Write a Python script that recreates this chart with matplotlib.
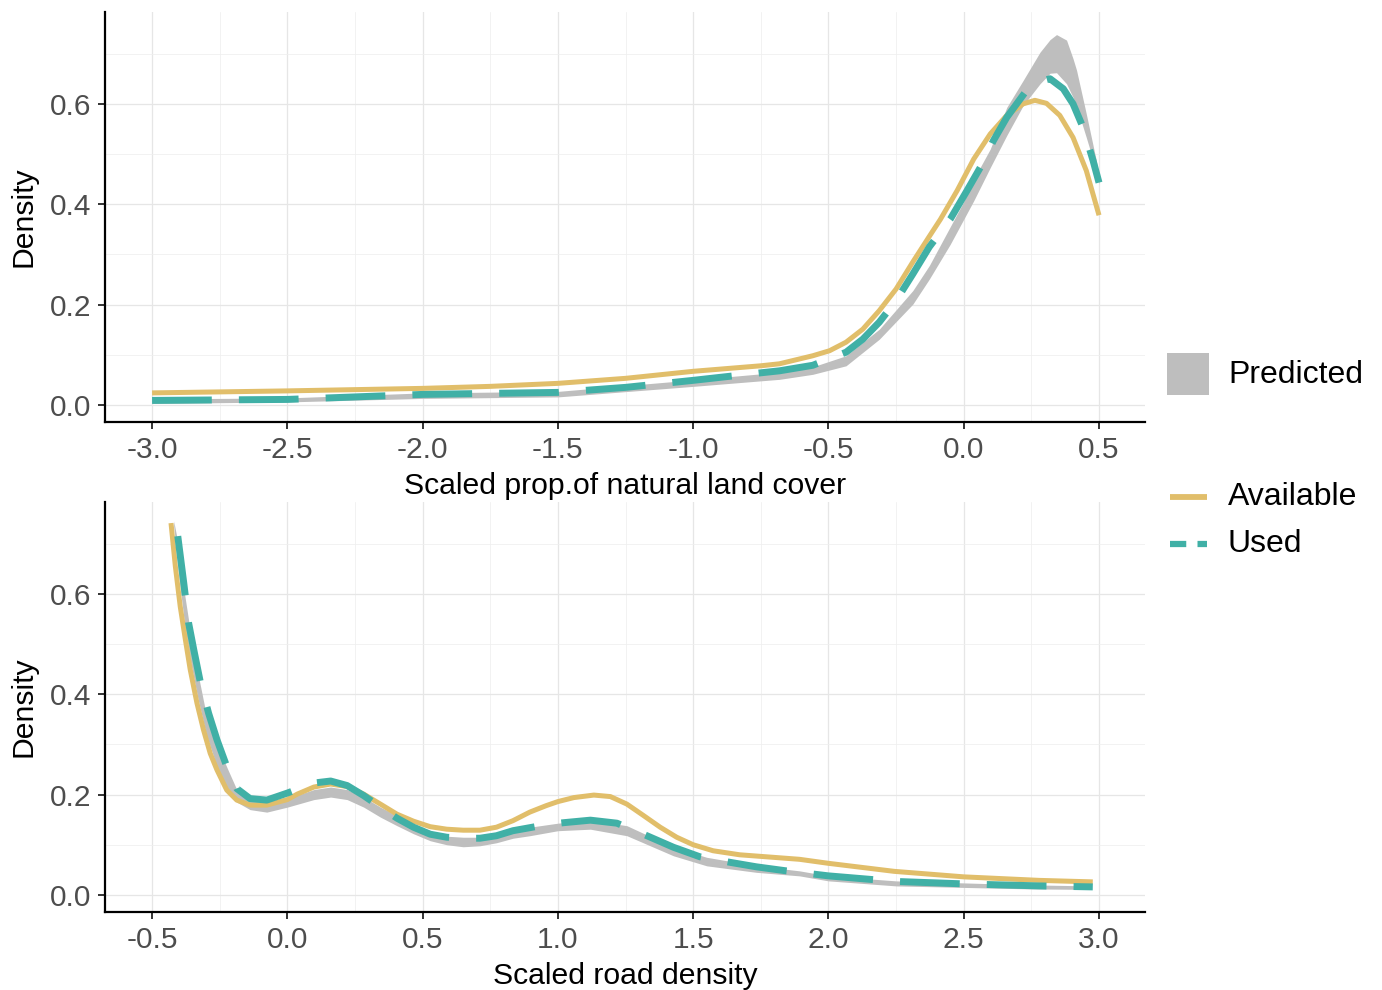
import matplotlib
matplotlib.use("Agg")
import matplotlib.pyplot as plt
from matplotlib.patches import Rectangle
from matplotlib.lines import Line2D

plt.rcParams['font.family'] = ['Liberation Sans', 'DejaVu Sans']

# ---------------- data: top panel (natural land cover) ----------------
top_avail_x = [-3.0, -2.5, -2.0, -1.75, -1.5, -1.25, -1.0, -0.75, -0.681, -0.558, -0.496,
               -0.435, -0.373, -0.312, -0.25, -0.188, -0.127, -0.086, -0.0245, 0.037, 0.098,
               0.159, 0.22, 0.263, 0.306, 0.355, 0.404, 0.453, 0.5]
top_avail_y = [0.024, 0.028, 0.033, 0.037, 0.043, 0.053, 0.067, 0.078, 0.082, 0.098, 0.108,
               0.125, 0.151, 0.188, 0.231, 0.285, 0.336, 0.370, 0.427, 0.490, 0.540,
               0.577, 0.600, 0.607, 0.601, 0.577, 0.533, 0.467, 0.378]

top_used_x = [-3.0, -2.5, -2.0, -1.75, -1.5, -1.25, -1.0, -0.75, -0.681, -0.558, -0.435,
              -0.373, -0.312, -0.25, -0.188, -0.127, -0.05, 0.012, 0.061, 0.11, 0.159,
              0.227, 0.27, 0.319, 0.368, 0.404, 0.441, 0.478, 0.5]
top_used_y = [0.009, 0.011, 0.021, 0.023, 0.025, 0.035, 0.049, 0.064, 0.068, 0.079, 0.105,
              0.131, 0.165, 0.208, 0.261, 0.315, 0.370, 0.427, 0.473, 0.527, 0.573,
              0.623, 0.643, 0.650, 0.630, 0.600, 0.553, 0.487, 0.443]

top_pred_x = [-3.0, -2.5, -2.0, -1.5, -1.0, -0.75, -0.681, -0.558, -0.435, -0.312, -0.188,
              -0.127, -0.05, 0.0, 0.037, 0.098, 0.159, 0.22, 0.282, 0.319, 0.343, 0.38,
              0.404, 0.417, 0.453, 0.49, 0.5]
top_pred_lo = [0.003, 0.006, 0.013, 0.016, 0.037, 0.048, 0.051, 0.061, 0.078, 0.131, 0.201,
               0.251, 0.320, 0.370, 0.407, 0.473, 0.537, 0.597, 0.640, 0.661, 0.662, 0.640,
               0.613, 0.595, 0.533, 0.467, 0.440]
top_pred_hi = [0.012, 0.014, 0.024, 0.027, 0.050, 0.062, 0.068, 0.076, 0.098, 0.151, 0.228,
               0.278, 0.355, 0.405, 0.450, 0.510, 0.593, 0.647, 0.703, 0.728, 0.738, 0.727,
               0.690, 0.667, 0.580, 0.487, 0.455]

# ---------------- data: bottom panel (road density) ----------------
bot_avail_x = [-0.43, -0.414, -0.396, -0.377, -0.359, -0.334, -0.31, -0.285, -0.26, -0.224,
               -0.187, -0.138, -0.076, 0.0, 0.037, 0.098, 0.16, 0.221, 0.282, 0.344, 0.405,
               0.466, 0.528, 0.589, 0.65, 0.712, 0.773, 0.834, 0.896, 0.957, 1.0, 1.059,
               1.133, 1.194, 1.255, 1.317, 1.378, 1.439, 1.5, 1.574, 1.672, 1.795, 1.893,
               2.0, 2.243, 2.501, 2.78, 2.977]
bot_avail_y = [0.741, 0.655, 0.575, 0.509, 0.449, 0.382, 0.329, 0.282, 0.249, 0.209,
               0.189, 0.179, 0.179, 0.190, 0.201, 0.215, 0.221, 0.216, 0.201, 0.181, 0.161,
               0.147, 0.136, 0.131, 0.129, 0.129, 0.135, 0.148, 0.165, 0.178, 0.186, 0.194,
               0.199, 0.196, 0.181, 0.158, 0.135, 0.115, 0.100, 0.088, 0.080, 0.075, 0.071,
               0.063, 0.047, 0.036, 0.029, 0.026]

bot_used_x = [-0.405, -0.383, -0.365, -0.346, -0.322, -0.291, -0.26, -0.224, -0.187, -0.138,
              -0.076, 0.0, 0.098, 0.16, 0.221, 0.282, 0.344, 0.405, 0.466, 0.528, 0.589,
              0.65, 0.712, 0.773, 0.834, 0.896, 0.957, 1.022, 1.12, 1.218, 1.329, 1.427,
              1.525, 1.636, 1.734, 1.844, 2.0, 2.243, 2.5, 2.78, 2.977]
bot_used_y = [0.715, 0.622, 0.542, 0.489, 0.425, 0.362, 0.309, 0.256, 0.212, 0.192,
              0.189, 0.203, 0.223, 0.227, 0.218, 0.198, 0.175, 0.153, 0.135, 0.121, 0.115,
              0.113, 0.113, 0.118, 0.128, 0.134, 0.140, 0.144, 0.149, 0.143, 0.118, 0.095,
              0.076, 0.065, 0.056, 0.048, 0.038, 0.027, 0.022, 0.018, 0.016]

bot_pred_x = [-0.42, -0.40, -0.38, -0.36, -0.33, -0.30, -0.26, -0.22, -0.187, -0.138, -0.076,
              0.0, 0.098, 0.16, 0.221, 0.282, 0.344, 0.405, 0.466, 0.528, 0.589, 0.65, 0.712,
              0.773, 0.834, 0.896, 1.0, 1.12, 1.255, 1.427, 1.55, 1.734, 1.893, 2.0, 2.25,
              2.5, 2.75, 2.97]
bot_pred_lo = [0.735, 0.630, 0.540, 0.470, 0.390, 0.320, 0.255, 0.210, 0.185, 0.170, 0.165,
               0.175, 0.190, 0.195, 0.190, 0.175, 0.155, 0.138, 0.122, 0.108, 0.100, 0.096,
               0.098, 0.104, 0.113, 0.118, 0.128, 0.131, 0.118, 0.078, 0.058, 0.045, 0.038,
               0.028, 0.018, 0.015, 0.012, 0.011]
bot_pred_hi = [0.745, 0.690, 0.600, 0.530, 0.440, 0.360, 0.300, 0.250, 0.210, 0.190, 0.185,
               0.192, 0.210, 0.215, 0.210, 0.195, 0.175, 0.158, 0.142, 0.128, 0.117, 0.115,
               0.115, 0.121, 0.130, 0.135, 0.143, 0.149, 0.138, 0.095, 0.075, 0.058, 0.048,
               0.038, 0.028, 0.024, 0.020, 0.018]

top_xticks = [-3.0, -2.5, -2.0, -1.5, -1.0, -0.5, 0.0, 0.5]
top_xticklabels = ["-3.0", "-2.5", "-2.0", "-1.5", "-1.0", "-0.5", "0.0", "0.5"]
bot_xticks = [-0.5, 0.0, 0.5, 1.0, 1.5, 2.0, 2.5, 3.0]
bot_xticklabels = ["-0.5", "0.0", "0.5", "1.0", "1.5", "2.0", "2.5", "3.0"]
yticks = [0.0, 0.2, 0.4, 0.6]
yticklabels = ["0.0", "0.2", "0.4", "0.6"]
xlabels = ["Scaled prop.of natural land cover", "Scaled road density"]
legend_labels = ["Predicted", "Available", "Used"]

C_AVAIL = "#E1BE6A"
C_USED = "#40B0A6"
C_PRED = "#BEBEBE"

fig = plt.figure(figsize=(13.82, 9.90), dpi=100)
W, H = 1382, 990

def px_axes(l, t, r, b):
    return fig.add_axes([l / W, 1 - b / H, (r - l) / W, (b - t) / H])

ax_top = px_axes(105, 12, 1145, 422)
ax_bot = px_axes(105, 502, 1145, 912)

panels = [
    (ax_top, top_pred_x, top_pred_lo, top_pred_hi, top_avail_x, top_avail_y,
     top_used_x, top_used_y, top_xticks, top_xticklabels, (-3.174, 0.67), xlabels[0]),
    (ax_bot, bot_pred_x, bot_pred_lo, bot_pred_hi, bot_avail_x, bot_avail_y,
     bot_used_x, bot_used_y, bot_xticks, bot_xticklabels, (-0.674, 3.17), xlabels[1]),
]

for (ax, px, plo, phi, ax_, ay, ux, uy, xt, xtl, xlim, xl) in panels:
    ax.fill_between(px, plo, phi, color=C_PRED, lw=0, zorder=2)
    ax.plot(ax_, ay, color=C_AVAIL, lw=3.6, solid_capstyle='butt',
            solid_joinstyle='round', zorder=3)
    ax.plot(ux, uy, color=C_USED, lw=5.0, dashes=(8.6, 3.9), dash_capstyle='butt',
            dash_joinstyle='round', zorder=4)
    ax.set_xticks(xt)
    ax.set_xticklabels(xtl)
    minor_x = [v + 0.25 for v in xt if v + 0.25 < xlim[1]] + [xt[0] - 0.25]
    ax.set_xticks([v for v in minor_x if v > xlim[0]], minor=True)
    ax.set_yticks(yticks)
    ax.set_yticklabels(yticklabels)
    ax.set_yticks([0.1, 0.3, 0.5, 0.7], minor=True)
    ax.set_xlim(*xlim)
    ax.set_ylim(-0.034, 0.783)
    ax.grid(which='major', color='#E6E6E6', lw=0.9, zorder=0)
    ax.grid(which='minor', color='#EFEFEF', lw=0.55, zorder=0)
    ax.set_axisbelow(True)
    for s in ['top', 'right']:
        ax.spines[s].set_visible(False)
    for s in ['left', 'bottom']:
        ax.spines[s].set_color('black')
        ax.spines[s].set_linewidth(1.6)
    ax.tick_params(which='major', length=5, width=1.4, color='#333333',
                   labelsize=21.5, labelcolor='#4D4D4D', pad=5)
    ax.tick_params(which='minor', length=0)
    ax.set_xlabel(xl, fontsize=21.7, color='black', labelpad=6)
    ax.set_ylabel("Density", fontsize=21.7, color='black', labelpad=9)

# legend (manual, figure coordinates in px)
def fx(x):
    return x / W

def fy(y):
    return 1 - y / H

fig.add_artist(Rectangle((fx(1167), fy(395)), 42 / W, 42 / H, transform=fig.transFigure,
                         facecolor=C_PRED, edgecolor='none'))
fig.text(fx(1228), fy(375), legend_labels[0], fontsize=23, va='center', ha='left')
fig.add_artist(Line2D([fx(1170), fx(1207)], [fy(497), fy(497)], transform=fig.transFigure,
                      color=C_AVAIL, lw=4.2, solid_capstyle='butt'))
fig.text(fx(1228), fy(497), legend_labels[1], fontsize=23, va='center', ha='left')
fig.add_artist(Line2D([fx(1170), fx(1207)], [fy(544), fy(544)], transform=fig.transFigure,
                      color=C_USED, lw=4.5, dashes=(2.6, 1.8), dash_capstyle='butt'))
fig.text(fx(1228), fy(544), legend_labels[2], fontsize=23, va='center', ha='left')

fig.savefig("out.png", dpi=100)
